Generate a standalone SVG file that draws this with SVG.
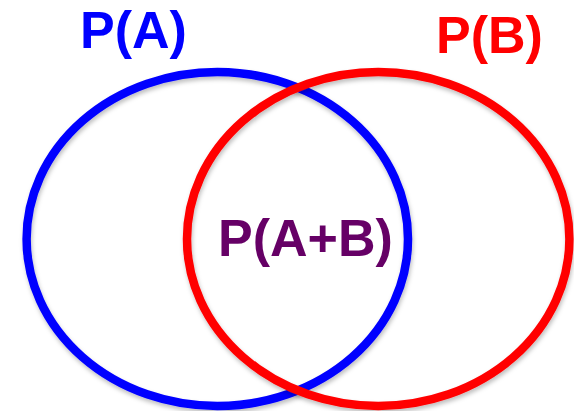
<svg xmlns="http://www.w3.org/2000/svg" width="574" height="411" viewBox="0 0 574 411">
  <style>
    .ring { fill: none; stroke-width: 8.5; filter: url(#sh); }
    .lbl { font-family: "Liberation Sans", Arial, sans-serif; font-weight: bold; font-size: 52px; }
  </style>
  <defs>
    <filter id="sh" x="-10%" y="-10%" width="120%" height="120%">
      <feDropShadow dx="1" dy="3" stdDeviation="2" flood-color="#000" flood-opacity="0.25"/>
    </filter>
  </defs>
  <rect width="574" height="411" fill="#fff"/>
  <g id="setA">
    <ellipse class="ring" cx="217.3" cy="239" rx="190.7" ry="167" stroke="#0000ff"/>
    <text class="lbl" x="80" y="48" fill="#0000ff">P(A)</text>
  </g>
  <g id="setB">
    <ellipse class="ring" cx="378.2" cy="239" rx="191.2" ry="167" stroke="#ff0000"/>
    <text class="lbl" x="436" y="53" fill="#ff0000">P(B)</text>
  </g>
  <g id="intersection">
    <text class="lbl" x="218" y="256" fill="#660066">P(A+B)</text>
  </g>
  <g id="connectors"/>
</svg>
